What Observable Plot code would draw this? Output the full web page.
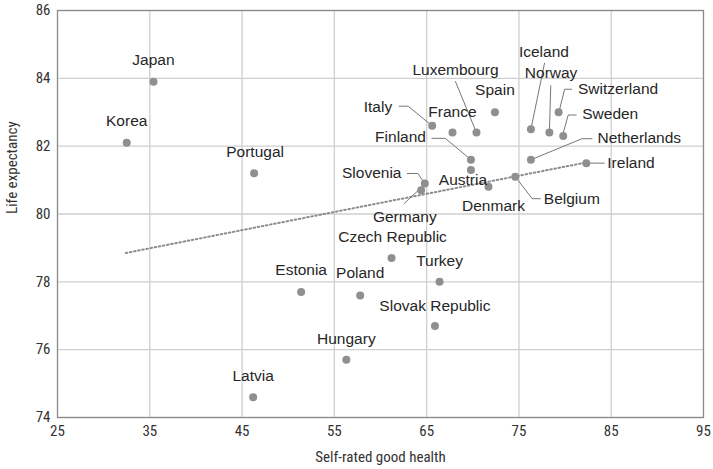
<!DOCTYPE html>
<html><head><meta charset="utf-8">
<script src="https://cdn.jsdelivr.net/npm/d3@7"></script>
<script src="https://cdn.jsdelivr.net/npm/@observablehq/plot@0.6"></script>
<style>body{margin:0;background:#fff}</style>
</head><body><div id="chart"></div>
<script>
// ---- data ----
const countries = ["Japan","Korea","Portugal","Estonia","Latvia","Hungary","Poland","Czech Republic","Turkey","Slovak Republic","Ireland","Netherlands","Belgium","Denmark","Austria","Finland","Slovenia","Germany","Italy","France","Luxembourg","Spain","Iceland","Norway","Switzerland","Sweden"];
const health = [35.4,32.5,46.3,51.4,46.2,56.3,57.8,61.2,66.4,65.9,82.3,76.3,74.6,71.7,69.8,69.8,64.8,64.4,65.6,67.8,70.4,72.4,76.3,78.3,79.3,79.8];
const lifeExpectancy = [83.9,82.1,81.2,77.7,74.6,75.7,77.6,78.7,78.0,76.7,81.5,81.6,81.1,80.8,81.3,81.6,80.9,80.7,82.6,82.4,82.4,83.0,82.5,82.4,83.0,82.3];
const trendHealth = [32.4, 82.3];
const trendLife = [78.85, 81.52];
const xTicks = [25,35,45,55,65,75,85,95];
const yTicks = [74,76,78,80,82,84,86];
const xLabel = "Self-rated good health";
const yLabel = "Life expectancy";

// ---- layout (label offsets in pixels relative to each point) ----
const labelLayout = {
  "Japan":{dx:0,dy:-22,anchor:"middle"},
  "Korea":{dx:0,dy:-22,anchor:"middle"},
  "Portugal":{dx:1,dy:-21,anchor:"middle"},
  "Estonia":{dx:0,dy:-22,anchor:"middle"},
  "Latvia":{dx:0,dy:-21,anchor:"middle"},
  "Hungary":{dx:0,dy:-21,anchor:"middle"},
  "Poland":{dx:0,dy:-22,anchor:"middle"},
  "Czech Republic":{dx:1,dy:-21,anchor:"middle"},
  "Turkey":{dx:0,dy:-21,anchor:"middle"},
  "Slovak Republic":{dx:0,dy:-20,anchor:"middle"},
  "Denmark":{dx:5,dy:19,anchor:"middle"},
  "Austria":{dx:-8,dy:10,anchor:"middle"},
  "France":{dx:0,dy:-21,anchor:"middle"},
  "Spain":{dx:0,dy:-22,anchor:"middle"},
  "Luxembourg":{dx:-21,dy:-63,anchor:"middle",leader:[[0,0],[-21,-51]]},
  "Iceland":{dx:13,dy:-77.6,anchor:"middle",leader:[[0,0],[13.6,-66]]},
  "Norway":{dx:1.7,dy:-60,anchor:"middle",leader:[[0,0],[1.4,-47]]},
  "Switzerland":{dx:19.4,dy:-23,anchor:"start",leader:[[1,-3],[6,-23],[13,-23]]},
  "Sweden":{dx:19,dy:-22,anchor:"start",leader:[[0,-3],[5,-21],[13,-21]]},
  "Netherlands":{dx:66.6,dy:-21.7,anchor:"start",leader:[[0,0],[51,-21],[61,-21]]},
  "Ireland":{dx:21,dy:0,anchor:"start",leader:[[0,0],[18,0]]},
  "Belgium":{dx:28.6,dy:22.3,anchor:"start",leader:[[0,0],[17,22],[25,22]]},
  "Finland":{dx:-45,dy:-22.4,anchor:"end",leader:[[0,0],[-25.7,-21.4],[-39,-21.4]]},
  "Italy":{dx:-40,dy:-18.6,anchor:"end",leader:[[0,0],[-24,-19.6],[-33,-19.6]]},
  "Slovenia":{dx:-23.3,dy:-10.3,anchor:"end",leader:[[0,0],[-7,-10],[-17.6,-10]]},
  "Germany":{dx:-16.3,dy:26.3,anchor:"middle",leader:[[-2.7,0],[-17,13.3]]}
};

const W = 713, H = 469;
const mL = 57, mR = 10, mT = 10, mB = 52;
const xDomain = [25,95], yDomain = [74,86];

const data = countries.map((c,i)=>({country:c, x:health[i], y:lifeExpectancy[i]}));
const trend = trendHealth.map((v,i)=>({x:v, y:trendLife[i]}));

const sx = Plot.scale({x:{domain:xDomain, range:[mL, W-mR]}});
const sy = Plot.scale({y:{domain:yDomain, range:[H-mB, mT]}});

const labels = [], leaders = [];
for (const d of data) {
  const L = labelLayout[d.country];
  const px = sx.apply(d.x), py = sy.apply(d.y);
  labels.push({country:d.country, anchor:L.anchor, x:sx.invert(px+L.dx), y:sy.invert(py+L.dy)});
  if (L.leader) for (const [ox,oy] of L.leader)
    leaders.push({country:d.country, x:sx.invert(px+ox), y:sy.invert(py+oy)});
}

const narrow = "'Liberation Sans Narrow','Roboto Condensed','Roboto',sans-serif";
const labelFont = "'Liberation Sans',Arial,sans-serif";

const txt = (anchor) => Plot.text(labels.filter(l=>l.anchor===anchor), {
  x:"x", y:"y", text:"country", textAnchor:anchor, lineAnchor:"middle",
  fontFamily:labelFont, fontSize:15.5, fill:"#262626"
});

const chart = Plot.plot({
  width:W, height:H,
  marginLeft:mL, marginRight:mR, marginTop:mT, marginBottom:mB,
  style:{fontFamily:narrow, fontSize:"15px", color:"#333", background:"#fff"},
  x:{domain:xDomain},
  y:{domain:yDomain},
  marks:[
    Plot.gridX(xTicks, {stroke:"#cfcfcf", strokeOpacity:1, strokeWidth:1.3}),
    Plot.gridY(yTicks, {stroke:"#cfcfcf", strokeOpacity:1, strokeWidth:1.3}),
    Plot.frame({stroke:"#8a8a8a", strokeWidth:1.2}),
    Plot.axisX({ticks:xTicks, tickSize:0, tickPadding:8, label:null, fontSize:15}),
    Plot.axisY({ticks:yTicks, tickSize:0, tickPadding:7, label:null, fontSize:15}),
    Plot.text([xLabel], {frameAnchor:"bottom", dy:40, text:d=>d, lineAnchor:"middle", fontSize:15}),
    Plot.text([yLabel], {frameAnchor:"left", dx:-45, text:d=>d, rotate:-90, lineAnchor:"middle", fontSize:15}),
    Plot.line(trend, {x:"x", y:"y", stroke:"#8c8c8c", strokeWidth:2, strokeDasharray:"1.6,2.6"}),
    Plot.line(leaders, {x:"x", y:"y", z:"country", stroke:"#777", strokeWidth:1}),
    Plot.dot(data, {x:"x", y:"y", r:4, fill:"#8f8f8f", stroke:"none"}),
    txt("middle"), txt("start"), txt("end")
  ]
});
document.getElementById("chart").appendChild(chart);
</script>
</body></html>
